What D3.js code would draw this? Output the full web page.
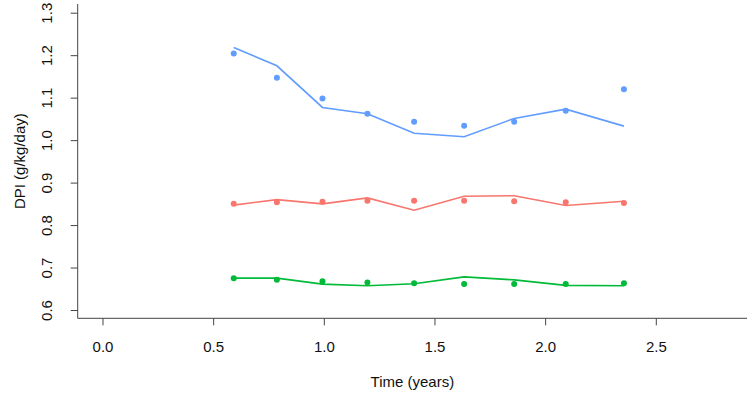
<!DOCTYPE html>
<html><head><meta charset="utf-8">
<script src="https://cdn.jsdelivr.net/npm/d3@7"></script>
<style>body{margin:0;background:#fff}svg{display:block}text{font-family:"Liberation Sans",Arial,Helvetica,sans-serif}</style>
</head><body><svg id="c" width="750" height="400"></svg>
<script>
const times = [0.593, 0.788, 0.994, 1.197, 1.408, 1.634, 1.860, 2.093, 2.356];
const bluePoints = [1.204, 1.147, 1.098, 1.062, 1.043, 1.034, 1.043, 1.069, 1.120];
const blueFit    = [1.218, 1.175, 1.077, 1.062, 1.016, 1.008, 1.051, 1.073, 1.033];
const redPoints  = [0.850, 0.854, 0.855, 0.857, 0.857, 0.857, 0.856, 0.854, 0.852];
const redFit     = [0.847, 0.860, 0.850, 0.864, 0.835, 0.868, 0.869, 0.846, 0.856];
const greenPoints= [0.675, 0.671, 0.668, 0.665, 0.663, 0.661, 0.661, 0.661, 0.663];
const greenFit   = [0.675, 0.675, 0.661, 0.657, 0.662, 0.678, 0.671, 0.658, 0.657];
const xTicks = [0, 0.5, 1.0, 1.5, 2.0, 2.5];
const yTicks = [0.6, 0.7, 0.8, 0.9, 1.0, 1.1, 1.2, 1.3];
const series = [
  {name:"blue", color:"#619CFF", pts:bluePoints, fit:blueFit},
  {name:"red", color:"#F8766D", pts:redPoints, fit:redFit},
  {name:"green", color:"#00BA38", pts:greenPoints, fit:greenFit}
];

const svg = d3.select("#c");
const L = 77.7, R = 747, T = 4, B = 318.3;
const x = d3.scaleLinear().domain([-0.112, 2.912]).range([L, R]);
const y = d3.scaleLinear().domain([0.5805, 1.3205]).range([B, T]);

const axisCol = "#444";
// x axis
const gx = svg.append("g").attr("transform", `translate(0,${B})`)
  .call(d3.axisBottom(x).tickValues(xTicks).tickFormat(d3.format(".1f")).tickSize(7).tickSizeOuter(0));
gx.select(".domain").attr("stroke", axisCol).attr("d", `M${L},0H${R}`);
gx.selectAll(".tick line").attr("stroke", axisCol);
gx.selectAll(".tick text").attr("y", 23).attr("dy", "0.71em").attr("font-size", 15).attr("fill", "#111");
// y axis
const gy = svg.append("g").attr("transform", `translate(${L},0)`)
  .call(d3.axisLeft(y).tickValues(yTicks).tickFormat(d3.format(".1f")).tickSize(7).tickSizeOuter(0));
gy.select(".domain").attr("stroke", axisCol).attr("d", `M0,${T}V${B}`);
gy.selectAll(".tick line").attr("stroke", axisCol);
gy.selectAll(".tick text").attr("x", null).attr("dy", null)
  .attr("transform", "translate(-30,0) rotate(-90)")
  .attr("text-anchor", "middle").attr("dominant-baseline", "middle")
  .attr("font-size", 15).attr("fill", "#111");
svg.selectAll(".tick text").attr("font-family", "Liberation Sans, Arial, sans-serif");

// titles
svg.append("text").attr("x", (L+R)/2).attr("y", 383).attr("text-anchor","middle")
  .attr("dominant-baseline","middle").attr("font-size", 15).attr("fill","#111").text("Time (years)");
svg.append("text").attr("transform", `translate(21,${(T+B)/2}) rotate(-90)`).attr("text-anchor","middle")
  .attr("dominant-baseline","middle").attr("font-size", 15).attr("fill","#111").text("DPI (g/kg/day)");

const line = d3.line().x((d,i)=>x(times[i])).y(d=>y(d));
series.forEach(s => {
  svg.append("path").datum(s.fit).attr("d", line).attr("fill","none")
    .attr("stroke", s.color).attr("stroke-width", 1.6);
  svg.append("g").selectAll("circle").data(s.pts).join("circle")
    .attr("cx", (d,i)=>x(times[i])).attr("cy", d=>y(d)).attr("r", 3).attr("fill", s.color);
});
</script></body></html>
